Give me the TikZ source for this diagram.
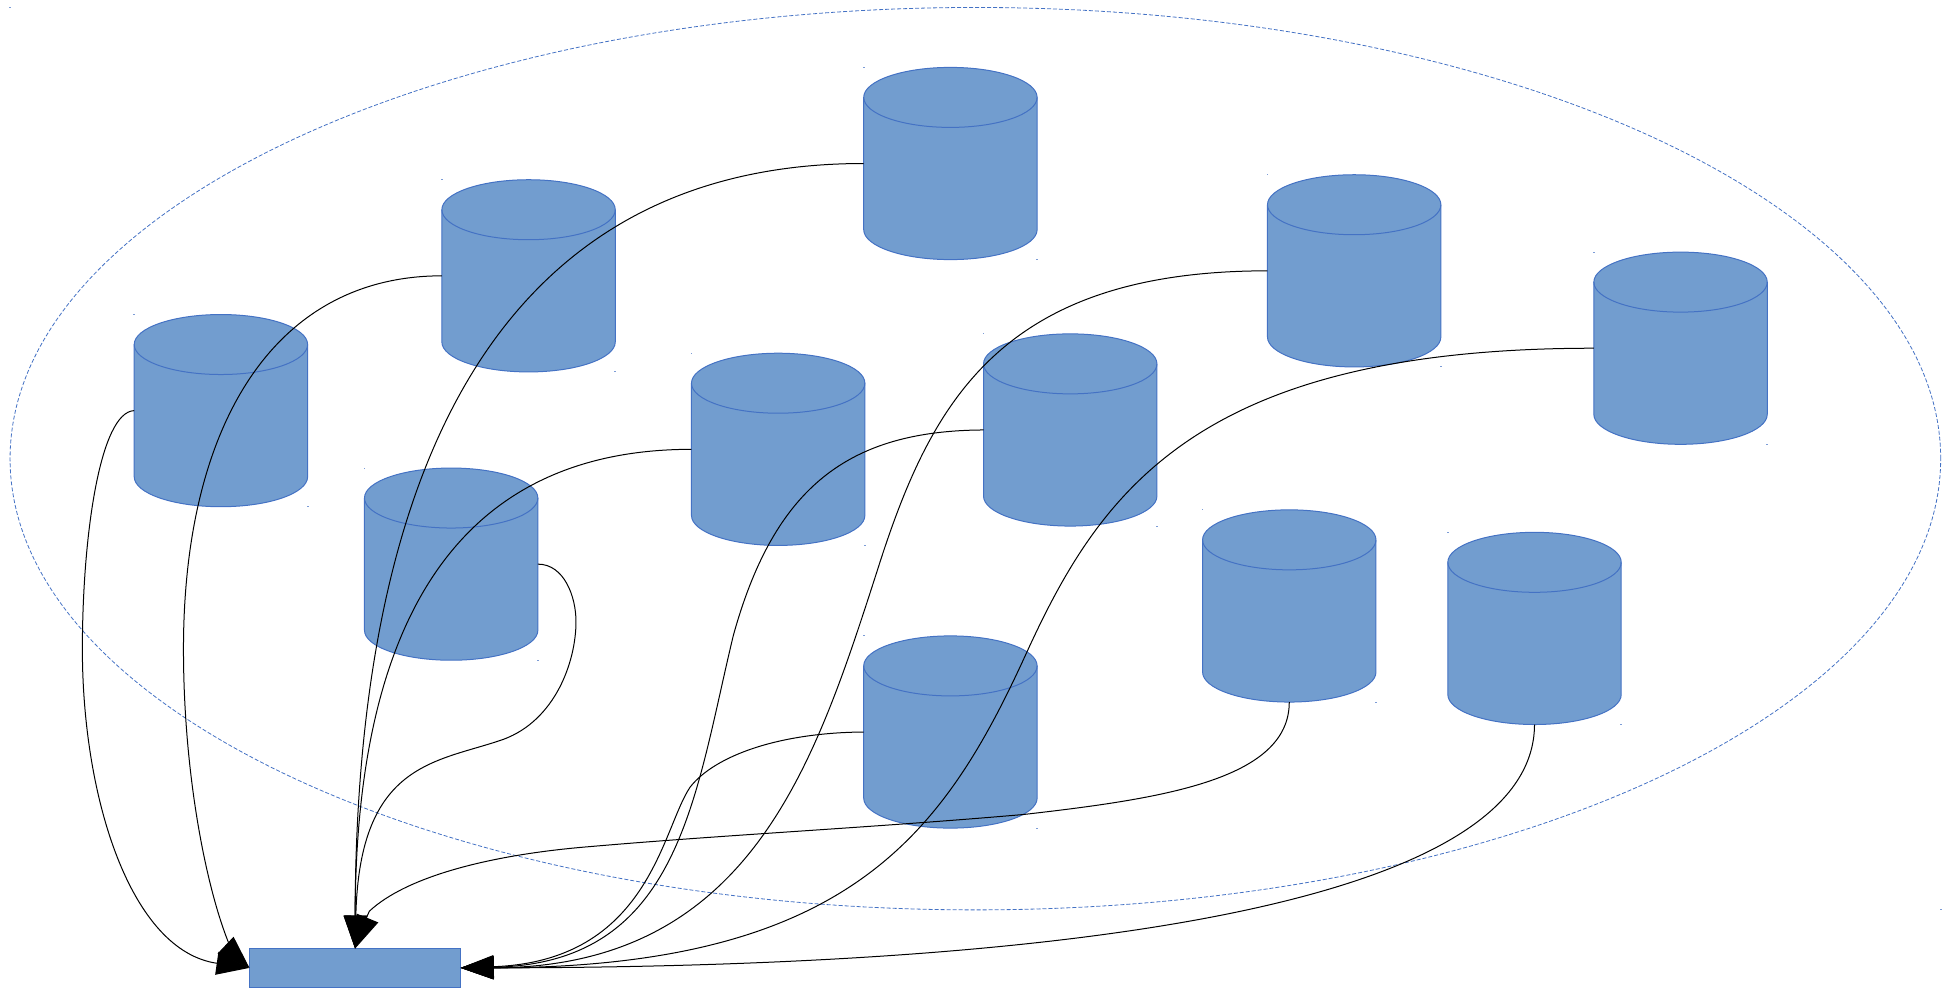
\documentclass[tikz,border=0pt]{standalone}
\usetikzlibrary{shapes.geometric,arrows.meta}
\definecolor{dbfill}{HTML}{729DCF}
\definecolor{dbline}{HTML}{4472C4}
\tikzset{
  db/.style={rectangle,minimum width=86.7pt,minimum height=96.1pt,inner sep=0pt,outer sep=0pt},
  dbshape/.style={draw=dbline,fill=dbfill,line width=.5pt},
  sink/.style={rectangle,draw=dbline,fill=dbfill,line width=.5pt,
    minimum width=105.6pt,minimum height=19.3pt,inner sep=0pt,outer sep=0pt},
  zone/.style={ellipse,draw=dbline,line width=.4pt,dash pattern=on 2pt off 1pt,
    minimum width=965.3pt,minimum height=451.2pt,inner sep=0pt,outer sep=0pt},
  link/.style={-{Triangle[length=16.5pt,width=11.5pt]},line width=.5pt,black},
  speck/.style={fill=dbline,opacity=.7,inner sep=0pt,minimum width=.9pt,minimum height=.5pt}
}
\newcommand{\drum}[1]{
\draw[dbshape] ([yshift=-15pt]#1.north west) arc [start angle=180,end angle=0,x radius=43.35pt,y radius=15pt]
 -- ([yshift=15pt]#1.south east) arc [start angle=0,end angle=-180,x radius=43.35pt,y radius=15pt] -- cycle;
\draw[dbshape,fill=none] ([yshift=-15pt]#1.north west) arc [start angle=180,end angle=360,x radius=43.35pt,y radius=15pt];
}
\begin{document}
\begin{tikzpicture}[x=.62404pt,y=-.62404pt]
\useasboundingbox (0,0) rectangle (1568,795.6);
\node[zone] (cloud) at (781.5,367.5) {};
\node[db] (c1) at (177,329) {};
\node[db] (c2) at (423.5,221) {};
\node[db] (c3) at (761.5,131) {};
\node[db] (c4) at (1085,217) {};
\node[db] (c5) at (1346.5,279) {};
\node[db] (c6) at (361.5,452) {};
\node[db] (c7) at (623.5,360) {};
\node[db] (c8) at (857.5,344.5) {};
\node[db] (c9) at (761.5,586.5) {};
\node[db] (c10) at (1033,485.5) {};
\node[db] (c11) at (1229.5,503.5) {};
\node[sink] (bar) at (284.5,775.5) {};
\foreach \c in {c1,c2,c3,c4,c5,c6,c7,c8,c9,c10,c11} {
\drum{\c}
}
\foreach \c in {cloud,c1,c2,c3,c4,c5,c6,c7,c8,c9,c10,c11} {
\node[speck] at (\c.west |- \c.north) {};
\node[speck] at (\c.east |- \c.south) {};
}
\draw[link] (c1.west) .. controls (80,330) and (66,430) .. (66,520) .. controls (66,640) and (105,762) .. (bar.west);
\draw[link] (c2.west) .. controls (220,221) and (147,340) .. (147,520) .. controls (147,620) and (165,710) .. (183,755) .. controls (186,762) and (192,768) .. (bar.west);
\draw[link] (c10.south) .. controls (1033,625) and (930,640) .. (820,652.6) .. controls (700,663) and (580,669) .. (472.8,678.3) .. controls (390,685) and (325,703) .. (296,730) .. controls (292,738) and (289,749) .. (bar.north);
\draw[link] (c3.west) .. controls (385,131) and (285,400) .. (bar.north);
\draw[link] (c7.west) .. controls (365,360) and (285,500) .. (bar.north);
\draw[link] (c6.east) .. controls (452,452) and (461.5,478) .. (461.5,498) .. controls (461.5,530) and (445,577) .. (403.3,592.4) .. controls (350,611) and (288,610) .. (bar.north);
\draw[link] (c8.west) .. controls (680,345) and (620.6,390) .. (587.6,509) .. controls (556,640) and (545,772) .. (bar.east);
\draw[link] (c4.west) .. controls (800,217) and (745,324) .. (702.4,458.7) .. controls (652,615) and (600,775) .. (bar.east);
\draw[link] (c5.west) .. controls (960,279) and (882,393) .. (822.6,522.8) .. controls (756,669) and (680,775) .. (bar.east);
\draw[link] (c9.west) .. controls (625,587) and (573,605) .. (552.9,630.7) .. controls (530,665) and (520,770) .. (bar.east);
\draw[link] (c11.south) .. controls (1229,720) and (880,775) .. (bar.east);
\end{tikzpicture}
\end{document}
